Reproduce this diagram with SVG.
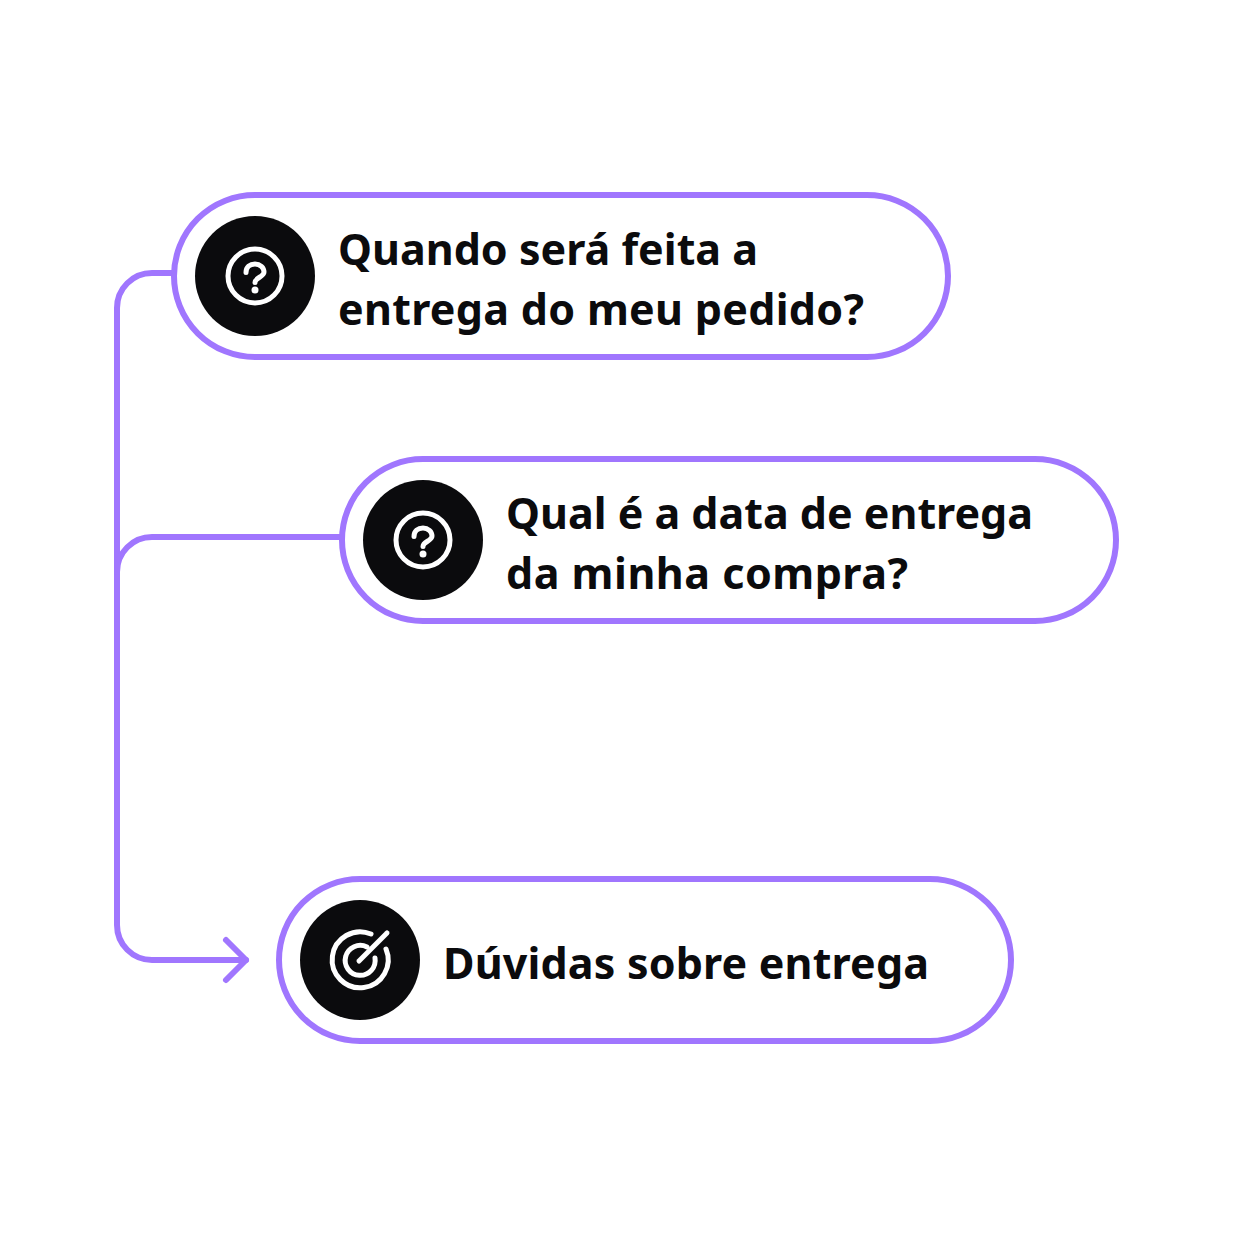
<svg xmlns="http://www.w3.org/2000/svg" width="1236" height="1236" viewBox="0 0 1236 1236">
<style>
.pill{fill:#fff;stroke:#a076fe;stroke-width:6}
.conn{fill:none;stroke:#a076fe;stroke-width:6;stroke-linecap:round;stroke-linejoin:round}
.disc{fill:#0b0b0d}
.ic{fill:none;stroke:#fff;stroke-width:5;stroke-linecap:round;stroke-linejoin:round}
.dot{fill:#fff}
text{font-family:"Noto Sans","Open Sans",sans-serif;font-weight:700;font-size:43px;fill:#0b0b0d}
</style>
<rect width="1236" height="1236" fill="#fff"/>
<g id="connectors">
<path class="conn" d="M174 273H152A35 35 0 0 0 117 308V925A35 35 0 0 0 152 960H246"/>
<path class="conn" d="M342 537H152A35 35 0 0 0 117 572"/>
<path class="conn" d="M226 940L246 960L226 980"/>
</g>
<g id="node1">
<rect class="pill" x="174" y="195" width="774" height="162" rx="81"/>
<circle class="disc" cx="255" cy="276" r="60"/>
<circle class="ic" cx="255" cy="276" r="27"/>
<path class="ic" d="M246 272.5C246 267 250 264 255 264C260 264 264 267.500 264 272C264 277 255 277.500 255 282.500"/>
<circle class="dot" cx="255" cy="290" r="3.500"/>
<text x="338" y="264.500" textLength="420">Quando será feita a</text>
<text x="338" y="324.500" textLength="526">entrega do meu pedido?</text>
</g>
<g id="node2">
<rect class="pill" x="342" y="459" width="774" height="162" rx="81"/>
<circle class="disc" cx="423" cy="540" r="60"/>
<circle class="ic" cx="423" cy="540" r="27"/>
<path class="ic" d="M414 536.500C414 531 418 528 423 528C428 528 432 531.500 432 536C432 541 423 541.500 423 546.500"/>
<circle class="dot" cx="423" cy="554" r="3.500"/>
<text x="506" y="528.500" textLength="527">Qual é a data de entrega</text>
<text x="506" y="588.500" textLength="402">da minha compra?</text>
</g>
<g id="node3">
<rect class="pill" x="279" y="879" width="732" height="162" rx="81"/>
<circle class="disc" cx="360" cy="960" r="60"/>
<path class="ic" d="M371 934A28 28 0 1 0 386 949"/>
<path class="ic" d="M367 947A15 15 0 1 0 375 958"/>
<path class="ic" d="M359 961L387 933"/>
<text x="443" y="978.500" textLength="486">Dúvidas sobre entrega</text>
</g>
</svg>
